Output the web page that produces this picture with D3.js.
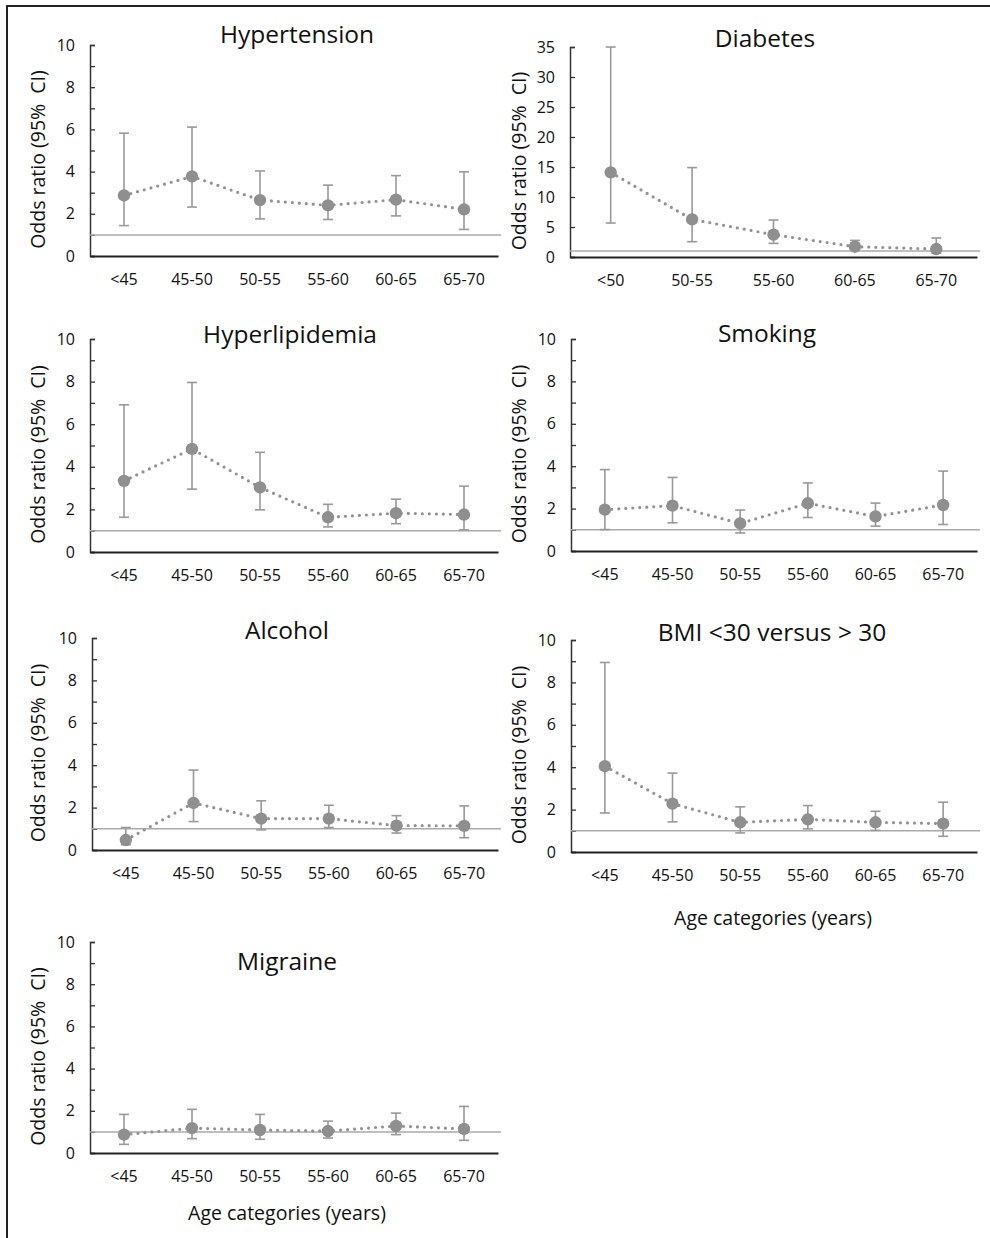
<!DOCTYPE html>
<html>
<head>
<meta charset="utf-8">
<script src="https://cdn.jsdelivr.net/npm/d3@7"></script>
<style>
    body { margin: 0; background: #fff; }
    text { font-family: "Open Sans", sans-serif; fill: #111; }
</style>
</head>
<body>
<script>
// age categories
const ages6 = ["<45", "45-50", "50-55", "55-60", "60-65", "65-70"];
const ages5 = ["<50", "50-55", "55-60", "60-65", "65-70"];

// odds ratios with lower / upper 95% CI
const hypertensionOR = [2.87, 3.77, 2.65, 2.40, 2.67, 2.21];
const hypertensionLo = [1.44, 2.32, 1.76, 1.73, 1.90, 1.26];
const hypertensionHi = [5.82, 6.11, 4.03, 3.36, 3.81, 3.99];

const diabetesOR = [14.1, 6.27, 3.72, 1.72, 1.33];
const diabetesLo = [5.66, 2.55, 2.27, 1.20, 0.70];
const diabetesHi = [35.0, 14.9, 6.16, 2.77, 3.16];

const hyperlipidemiaOR = [3.34, 4.84, 3.03, 1.63, 1.82, 1.76];
const hyperlipidemiaLo = [1.63, 2.95, 1.98, 1.18, 1.33, 1.04];
const hyperlipidemiaHi = [6.91, 7.96, 4.68, 2.24, 2.48, 3.09];

const smokingOR = [1.95, 2.14, 1.30, 2.25, 1.63, 2.17];
const smokingLo = [1.01, 1.33, 0.85, 1.58, 1.17, 1.25];
const smokingHi = [3.84, 3.47, 1.93, 3.21, 2.26, 3.77];

const alcoholOR = [0.47, 2.22, 1.48, 1.48, 1.15, 1.14];
const alcoholLo = [0.25, 1.34, 0.95, 1.06, 0.80, 0.58];
const alcoholHi = [1.06, 3.77, 2.32, 2.11, 1.62, 2.08];

const bmiOR = [4.05, 2.28, 1.40, 1.54, 1.40, 1.34];
const bmiLo = [1.84, 1.42, 0.90, 1.09, 1.02, 0.74];
const bmiHi = [8.94, 3.72, 2.13, 2.19, 1.92, 2.35];

const migraineOR = [0.87, 1.18, 1.09, 1.04, 1.28, 1.14];
const migraineLo = [0.41, 0.68, 0.65, 0.71, 0.87, 0.60];
const migraineHi = [1.83, 2.07, 1.83, 1.51, 1.89, 2.21];

const ticks10 = [0, 2, 4, 6, 8, 10];
const minor10 = [1, 3, 5, 7, 9];
const ticks35 = [0, 5, 10, 15, 20, 25, 30, 35];

const yLabel = "Odds ratio (95%\u00a0 CI)";
const xLabel = "Age categories (years)";

const W = 990, H = 1238;
const svg = d3.select(document.body).append("svg")
    .attr("width", W)
    .attr("height", H);

// frame round the figure
svg.append("path")
    .attr("d", `M7,${H} V6 H${W}`)
    .attr("fill", "none")
    .attr("stroke", "#222")
    .attr("stroke-width", 2);

const panels = [
    {title: "Hypertension", cats: ages6, or: hypertensionOR, lo: hypertensionLo, hi: hypertensionHi,
        left: 90, right: 498, top: 45, bottom: 256, titleX: 297, titleY: 43, max: 10},
    {title: "Diabetes", cats: ages5, or: diabetesOR, lo: diabetesLo, hi: diabetesHi,
        left: 570, right: 977, top: 47, bottom: 257, titleX: 765, titleY: 47, max: 35},
    {title: "Hyperlipidemia", cats: ages6, or: hyperlipidemiaOR, lo: hyperlipidemiaLo, hi: hyperlipidemiaHi,
        left: 90, right: 498, top: 339, bottom: 552, titleX: 290, titleY: 343, max: 10},
    {title: "Smoking", cats: ages6, or: smokingOR, lo: smokingLo, hi: smokingHi,
        left: 571, right: 977, top: 339, bottom: 551, titleX: 767, titleY: 342, max: 10},
    {title: "Alcohol", cats: ages6, or: alcoholOR, lo: alcoholLo, hi: alcoholHi,
        left: 92, right: 498, top: 638, bottom: 850, titleX: 287, titleY: 639, max: 10},
    {title: "BMI <30 versus > 30", cats: ages6, or: bmiOR, lo: bmiLo, hi: bmiHi,
        left: 571, right: 977, top: 640, bottom: 852, titleX: 772, titleY: 641, max: 10,
        xLabelX: 773, xLabelY: 925},
    {title: "Migraine", cats: ages6, or: migraineOR, lo: migraineLo, hi: migraineHi,
        left: 90, right: 498, top: 942, bottom: 1153, titleX: 287, titleY: 970, max: 10,
        xLabelX: 287, xLabelY: 1220},
];

const tickFont = "16px";

const drawPanel = function(p) {
    const g = svg.append("g");
    const x = d3.scaleBand().domain(p.cats).range([p.left, p.right]);
    const y = d3.scaleLinear().domain([0, p.max]).range([p.bottom, p.top]);
    const cx = c => x(c) + x.bandwidth() / 2;

    // y axis, ticks point inward
    const yAxis = g.append("g")
        .attr("transform", `translate(${p.left},0)`)
        .call(d3.axisLeft(y)
            .tickValues(p.max === 10 ? ticks10 : ticks35)
            .tickSize(-5)
            .tickPadding(15));
    if (p.max === 10) {
        g.append("g")
            .attr("transform", `translate(${p.left},0)`)
            .call(d3.axisLeft(y).tickValues(minor10).tickSize(-5).tickFormat(""))
            .select(".domain").remove();
    }
    yAxis.select(".domain").attr("stroke", "#333").attr("stroke-width", 1.5);
    g.selectAll(".tick line").attr("stroke", "#333").attr("stroke-width", 1.3);
    yAxis.selectAll("text")
        .style("font-size", tickFont)
        .style("font-family", "'Open Sans', sans-serif")
        .attr("fill", "#111");

    // reference line at OR = 1
    g.append("line")
        .attr("x1", p.left).attr("x2", p.right + 3)
        .attr("y1", y(1)).attr("y2", y(1))
        .attr("stroke", "#aaa")
        .attr("stroke-width", 1.5);

    // x axis
    const xAxis = g.append("g")
        .attr("transform", `translate(0,${p.bottom})`)
        .call(d3.axisBottom(x).tickSize(0).tickPadding(18));
    xAxis.select(".domain").attr("stroke", "#222").attr("stroke-width", 2.2);
    xAxis.selectAll("text")
        .style("font-size", tickFont)
        .style("font-family", "'Open Sans', sans-serif")
        .attr("fill", "#111");

    const rows = p.cats.map((c, i) => ({c, or: p.or[i], lo: p.lo[i], hi: p.hi[i]}));

    // error bars
    const eb = g.append("g")
        .attr("stroke", "#999")
        .attr("stroke-width", 1.6);
    eb.selectAll(".bar").data(rows).join("line")
        .attr("x1", d => cx(d.c)).attr("x2", d => cx(d.c))
        .attr("y1", d => y(d.lo)).attr("y2", d => y(d.hi));
    eb.selectAll(".capHi").data(rows).join("line")
        .attr("class", "capHi")
        .attr("x1", d => cx(d.c) - 5).attr("x2", d => cx(d.c) + 5)
        .attr("y1", d => y(d.hi)).attr("y2", d => y(d.hi));
    eb.selectAll(".capLo").data(rows).join("line")
        .attr("class", "capLo")
        .attr("x1", d => cx(d.c) - 5).attr("x2", d => cx(d.c) + 5)
        .attr("y1", d => y(d.lo)).attr("y2", d => y(d.lo));

    // dotted connecting line
    g.append("path")
        .datum(rows)
        .attr("fill", "none")
        .attr("stroke", "#929292")
        .attr("stroke-width", 3.2)
        .attr("stroke-linecap", "round")
        .attr("stroke-dasharray", "0 7")
        .attr("d", d3.line().x(d => cx(d.c)).y(d => y(d.or)));

    // points
    g.selectAll("circle").data(rows).join("circle")
        .attr("cx", d => cx(d.c))
        .attr("cy", d => y(d.or))
        .attr("r", 6.2)
        .attr("fill", "#8f8f8f");

    // title
    g.append("text")
        .attr("x", p.titleX).attr("y", p.titleY)
        .attr("text-anchor", "middle")
        .style("font-size", "24.5px")
        .text(p.title);

    // y label
    const labelX = p.left < 300 ? 45 : 526;
    g.append("text")
        .attr("transform", `translate(${labelX},${(p.top + p.bottom) / 2 + 9}) rotate(-90)`)
        .attr("text-anchor", "middle")
        .style("font-size", "19.5px")
        .text(yLabel);

    if (p.xLabelY) {
        g.append("text")
            .attr("x", p.xLabelX).attr("y", p.xLabelY)
            .attr("text-anchor", "middle")
            .style("font-size", "19.5px")
            .text(xLabel);
    }
};

panels.forEach(drawPanel);
</script>
</body>
</html>
